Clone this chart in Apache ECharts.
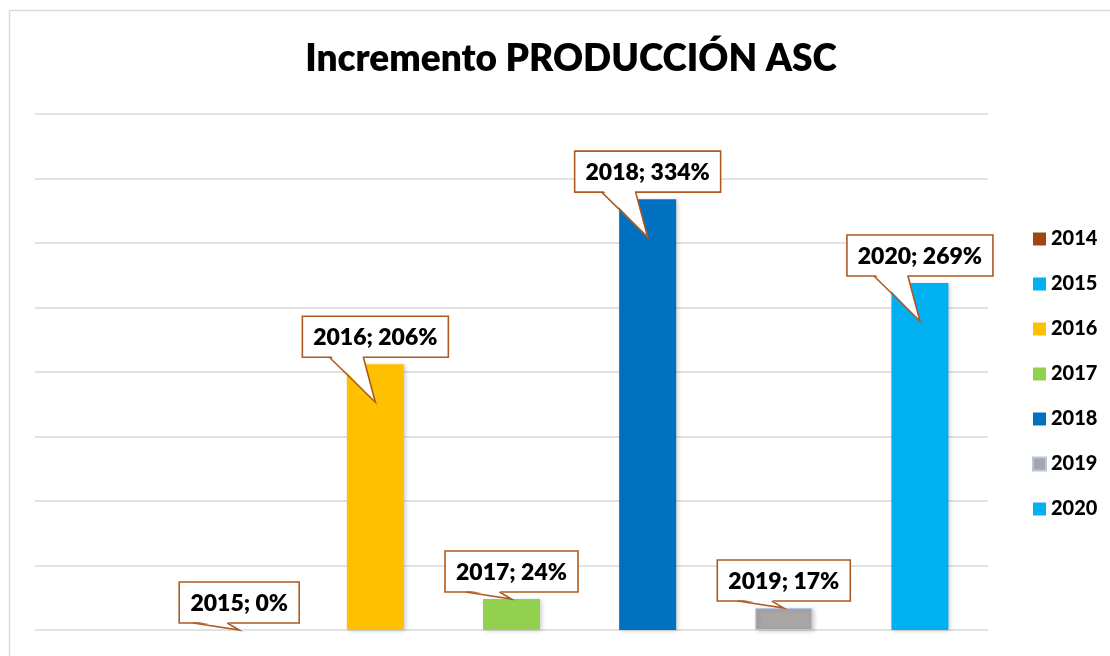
<!DOCTYPE html>
<html>
<head>
<meta charset="utf-8">
<script src="https://cdn.jsdelivr.net/npm/echarts@6/dist/echarts.min.js"></script>
<style>
  html, body { margin: 0; padding: 0; background: #fff; }
  #chart { width: 1110px; height: 656px; }
</style>
</head>
<body>
<div id="chart"></div>
<script>
// Production increment per year (percent)
const years = ['2014', '2015', '2016', '2017', '2018', '2019', '2020'];
const increments = [null, 0, 206, 24, 334, 17, 269];
const colors = ['#9E480E', '#00B0F0', '#FFC000', '#92D050', '#0070C0', '#A9A5A5', '#00B0F0'];
const titleText = 'Incremento PRODUCCIÓN ASC';

const LABEL_FONT = '800 23px Lato';
const measureCtx = document.createElement('canvas').getContext('2d');
measureCtx.font = LABEL_FONT;

// One series per year, stacked so each bar sits centred on its own category
const barSeries = years.map((y, i) => ({
  name: y,
  type: 'bar',
  stack: 'total',
  barWidth: 57,
  color: colors[i],
  itemStyle: {
    color: colors[i],
    borderColor: i === 5 ? '#B4C7E7' : undefined,
    borderWidth: i === 5 ? 1 : 0,
    shadowBlur: 4,
    shadowColor: 'rgba(0,0,0,0.18)',
    shadowOffsetX: 2,
    shadowOffsetY: 1
  },
  data: years.map((_, j) => (j === i ? increments[i] : null))
}));

// Callout labels "year; value%" pointing at each bar top
const calloutData = years
  .map((y, i) => [i, increments[i], y])
  .filter(d => d[1] !== null);

const calloutSeries = {
  type: 'custom',
  z: 10,
  silent: true,
  data: calloutData,
  renderItem: function (params, api) {
    const idx = api.value(0);
    const val = api.value(1);
    const year = years[idx];
    const text = year + '; ' + val + '%';
    const top = api.coord([idx, val]);
    const base = api.coord([idx, 0]);
    const barH = base[1] - top[1];
    const cx = top[0];
    const tw = measureCtx.measureText(text).width;
    const w = Math.round(tw + 22);
    const h = 41;
    const bottom = top[1] - 7;
    const left = cx - w / 2;
    const tipY = barH > 100 ? top[1] + 38 : top[1];
    const t1 = cx - 46, t2 = cx - 12;
    const stroke = '#AE5A21';
    return {
      type: 'group',
      children: [
        {
          type: 'rect',
          shape: { x: left, y: bottom - h, width: w, height: h },
          style: { fill: '#fff', stroke: stroke, lineWidth: 1.6 }
        },
        {
          type: 'polygon',
          shape: { points: [[t1 + 1, bottom - 2], [t2 - 1, bottom - 2], [cx, tipY]] },
          style: { fill: '#fff', stroke: null }
        },
        {
          type: 'polyline',
          shape: { points: [[t1, bottom], [cx, tipY], [t2, bottom]] },
          style: { fill: null, stroke: stroke, lineWidth: 1.6 }
        },
        {
          type: 'text',
          style: {
            x: cx, y: bottom - h / 2 + 1,
            text: text,
            font: LABEL_FONT,
            fill: '#000',
            align: 'center',
            verticalAlign: 'middle'
          }
        }
      ]
    };
  }
};

const chart = echarts.init(document.getElementById('chart'), null, { renderer: 'canvas' });
chart.setOption({
  backgroundColor: '#fff',
  animation: false,
  title: {
    text: titleText,
    left: 566,
    top: 36,
    textAlign: 'center',
    textStyle: { fontFamily: 'Lato', fontWeight: 800, fontSize: 37, color: '#000' }
  },
  graphic: [{
    type: 'rect',
    left: 7, top: 8,
    shape: { width: 1200, height: 760 },
    style: { fill: null, stroke: '#D9D9D9', lineWidth: 1.5 },
    silent: true,
    z: -1
  }],
  legend: {
    data: years,
    orient: 'vertical',
    left: 1027,
    top: 224,
    itemWidth: 13,
    itemHeight: 13,
    itemGap: 25,
    icon: 'rect',
    textStyle: { fontFamily: 'Lato', fontWeight: 900, fontSize: 20, color: '#000' }
  },
  grid: { left: 35, right: 122, top: 114, bottom: 26 },
  xAxis: {
    type: 'category',
    data: years,
    axisLine: { show: false },
    axisTick: { show: false },
    axisLabel: { show: false }
  },
  yAxis: {
    type: 'value',
    min: 0,
    max: 400,
    interval: 50,
    axisLabel: { show: false },
    axisLine: { show: false },
    axisTick: { show: false },
    splitLine: { lineStyle: { color: '#D9D9D9', width: 1.5 } }
  },
  series: barSeries.concat([calloutSeries])
});
</script>
</body>
</html>
